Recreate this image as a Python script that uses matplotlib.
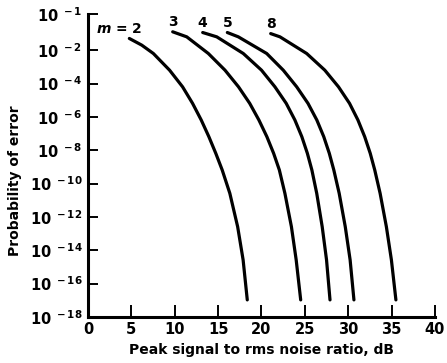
import numpy as np
import matplotlib
matplotlib.use("Agg")
import matplotlib.pyplot as plt

# peak signal to rms noise ratio (dB) and log10(probability of error)
m_values = [2, 3, 4, 5, 8]

snr_m2 = [4.76, 6.19, 7.53, 9.40, 10.90, 12.05, 13.05, 13.93, 14.73, 15.47, 16.35, 17.25, 17.88, 18.36]
logp_m2 = [-1.675, -1.86, -2.2, -3.2, -4.2, -5.19, -6.19, -7.19, -8.19, -9.19, -10.59, -12.59, -14.58, -16.98]

snr_m3 = [9.76, 11.38, 13.87, 15.79, 17.35, 18.64, 19.70, 20.62, 21.40, 22.06, 22.70, 23.45, 24.0, 24.52]
logp_m3 = [-1.49, -1.63, -2.2, -3.2, -4.2, -5.19, -6.19, -7.19, -8.19, -9.19, -10.59, -12.59, -14.58, -16.98]

snr_m4 = [13.22, 14.84, 17.90, 20.00, 21.55, 22.85, 23.85, 24.65, 25.29, 25.81, 26.37, 27.0, 27.5, 27.9]
logp_m4 = [-1.51, -1.63, -2.2, -3.2, -4.2, -5.19, -6.19, -7.19, -8.19, -9.19, -10.59, -12.59, -14.58, -16.98]

snr_m5 = [16.06, 17.33, 20.60, 22.51, 24.06, 25.36, 26.38, 27.18, 27.82, 28.34, 28.96, 29.66, 30.22, 30.66]
logp_m5 = [-1.51, -1.63, -2.2, -3.2, -4.2, -5.19, -6.19, -7.19, -8.19, -9.19, -10.59, -12.59, -14.58, -16.98]

snr_m8 = [21.06, 22.13, 25.21, 27.30, 28.88, 30.15, 31.12, 31.90, 32.54, 33.06, 33.68, 34.40, 34.98, 35.50]
logp_m8 = [-1.54, -1.63, -2.2, -3.2, -4.2, -5.19, -6.19, -7.19, -8.19, -9.19, -10.59, -12.59, -14.58, -16.98]

curves = [
    (snr_m2, logp_m2),
    (snr_m3, logp_m3),
    (snr_m4, logp_m4),
    (snr_m5, logp_m5),
    (snr_m8, logp_m8),
]
curve_labels = ["$m$ = 2", "3", "4", "5", "8"]

x_ticks = [0, 5, 10, 15, 20, 25, 30, 35, 40]
y_exponents = [-1, -2, -4, -6, -8, -10, -12, -14, -16, -18]

# the original axis gives the 10^-1..10^-2 decade extra room
STRETCH = 2.16


def forward(p):
    lg = np.log10(np.clip(p, 1e-300, None))
    return np.where(lg >= -2, -2 + (lg + 2) * STRETCH, lg)


def inverse(v):
    v = np.asarray(v, dtype=float)
    lg = np.where(v >= -2, -2 + (v + 2) / STRETCH, v)
    return 10.0 ** lg


plt.rcParams["font.family"] = "DejaVu Sans"
plt.rcParams["font.weight"] = "bold"
plt.rcParams["mathtext.fontset"] = "custom"
plt.rcParams["mathtext.rm"] = "DejaVu Sans:bold"
plt.rcParams["mathtext.bf"] = "DejaVu Sans:bold"
plt.rcParams["mathtext.it"] = "DejaVu Sans:italic:bold"

fig = plt.figure(figsize=(4.47, 3.63), dpi=100)
ax = fig.add_axes([0.197, 0.127, 0.776, 0.834])

for (snr, logp), label, m in zip(curves, curve_labels, m_values):
    p = 10.0 ** np.array(logp)
    ax.plot(snr, p, color="black", lw=2.3, solid_capstyle="round", solid_joinstyle="round")
    dx = -7 if m == 2 else 0
    ax.annotate(label, (snr[0], p[0]), xytext=(dx, 2), textcoords="offset points",
                ha="center", va="bottom", fontsize=10, fontweight="bold")

ax.set_yscale("function", functions=(forward, inverse))
ax.set_xlim(0, 40)
ax.set_ylim(1e-18, 1e-1)

ax.set_xticks(x_ticks)
ax.set_xticklabels([str(t) for t in x_ticks])
ax.set_yticks([10.0 ** e for e in y_exponents])
ax.set_yticklabels([f"$\\mathrm{{10}}^{{\\ {e}}}$".replace("-", "\u2212") for e in y_exponents])
ax.minorticks_off()

for side in ["top", "right"]:
    ax.spines[side].set_visible(False)
for side in ["left", "bottom"]:
    ax.spines[side].set_linewidth(2.2)

ax.tick_params(axis="both", direction="in", length=7, width=1.4, labelsize=10.5, pad=4)
ax.tick_params(axis="x", length=9)
ax.set_xlabel("Peak signal to rms noise ratio, dB", fontsize=10, fontweight="bold", labelpad=4)
ax.set_ylabel("Probability of error", fontsize=10, fontweight="bold")
ax.yaxis.set_label_coords(-0.19, 0.45)

fig.savefig("out.png", dpi=100)
